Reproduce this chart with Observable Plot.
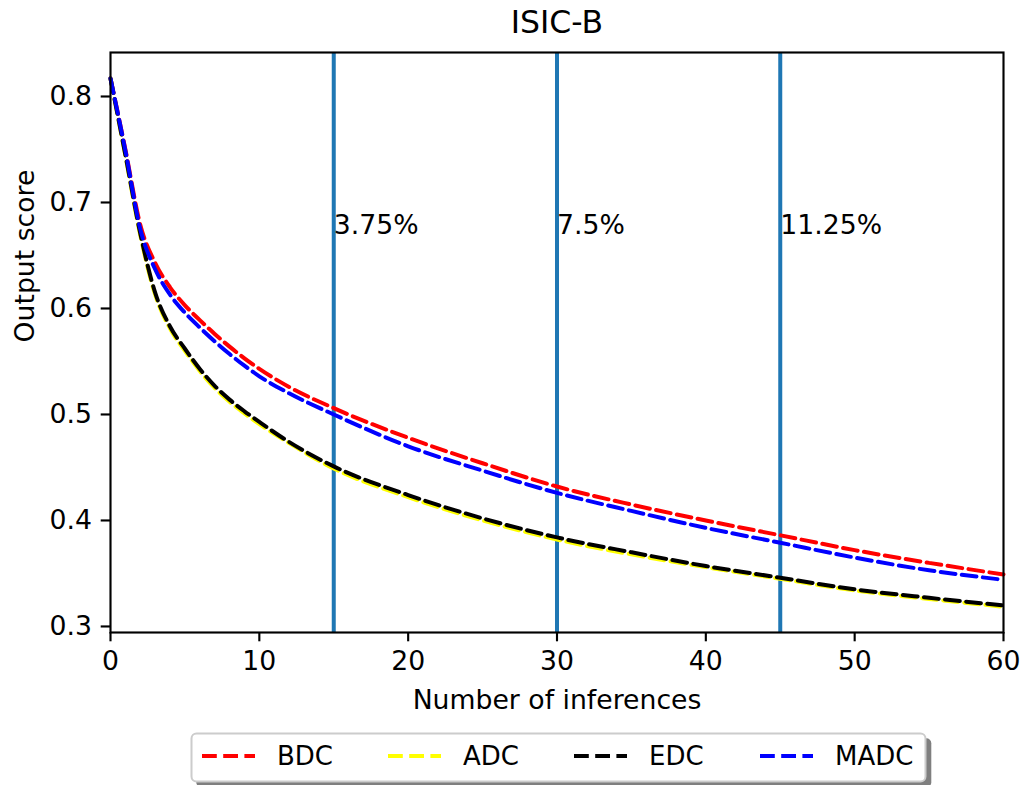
<!DOCTYPE html>
<html>
<head>
<meta charset="utf-8">
<script src="https://cdn.jsdelivr.net/npm/d3@7"></script>
<script src="https://cdn.jsdelivr.net/npm/@observablehq/plot@0.6"></script>
<style>
  html, body { margin: 0; padding: 0; background: #fff; }
  #wrap { position: relative; width: 1023px; height: 785px; font-family: "DejaVu Sans", sans-serif; }
  #legend { position: absolute; left: 191px; top: 733px; }
</style>
</head>
<body>
<div id="wrap"><div id="chart"></div><div id="legend"></div></div>
<script>
// ---- data ----
const inferences = [0, 1, 2, 3, 4, 5, 6, 7, 8, 9, 10, 12, 15, 20, 25, 30, 35, 40, 45, 50, 55, 60];
const bdc  = [0.817, 0.750, 0.679, 0.643, 0.620, 0.603, 0.589, 0.576, 0.564, 0.553, 0.543, 0.526, 0.506, 0.478, 0.454, 0.432, 0.415, 0.400, 0.386, 0.372, 0.360, 0.349];
const adc  = [0.817, 0.744, 0.669, 0.613, 0.581, 0.560, 0.541, 0.525, 0.512, 0.501, 0.491, 0.473, 0.449, 0.422, 0.400, 0.382, 0.368, 0.356, 0.345, 0.334, 0.326, 0.3186];
const edc  = [0.817, 0.745, 0.671, 0.615, 0.583, 0.562, 0.543, 0.527, 0.514, 0.503, 0.493, 0.474, 0.451, 0.424, 0.402, 0.384, 0.370, 0.357, 0.346, 0.335, 0.327, 0.3198];
const madc = [0.817, 0.749, 0.675, 0.637, 0.613, 0.596, 0.582, 0.569, 0.557, 0.546, 0.536, 0.520, 0.500, 0.470, 0.447, 0.426, 0.409, 0.393, 0.379, 0.365, 0.353, 0.344];
const seriesNames = ["BDC", "ADC", "EDC", "MADC"];
const seriesColors = ["#ff0000", "#ffff00", "#000000", "#0000ff"];
const seriesValues = [bdc, adc, edc, madc];
const markerX = [15, 30, 45];
const markerLabels = ["3.75%", "7.5%", "11.25%"];
const markerLabelY = 0.67;
const xTicks = [0, 10, 20, 30, 40, 50, 60];
const yTicks = [0.3, 0.4, 0.5, 0.6, 0.7, 0.8];
const titleText = "ISIC-B";
const xLabel = "Number of inferences";
const yLabel = "Output score";

// ---- build ----
const FS = 26.7;
const tables = seriesValues.map((vals, i) => inferences.map((x, j) => ({x, y: vals[j], name: seriesNames[i]})));
const markers = markerX.map((x, i) => ({x, label: markerLabels[i]}));

const lineMarks = tables.map((t, i) => Plot.line(t, {
  x: "x", y: "y", stroke: seriesColors[i], strokeWidth: 4,
  strokeDasharray: "14.8,6.4", curve: "monotone-x"
}));

const chart = Plot.plot({
  width: 1023,
  height: 725,
  marginTop: 52,
  marginLeft: 110,
  marginRight: 20,
  marginBottom: 93,
  style: {fontFamily: "DejaVu Sans", background: "#fff", color: "#000", overflow: "visible"},
  x: {domain: [0, 60]},
  y: {domain: [0.2943, 0.8415]},
  marks: [
    Plot.ruleX(markers, {x: "x", stroke: "#1f77b4", strokeWidth: 4}),
    ...lineMarks,
    Plot.text(markers, {x: "x", y: () => markerLabelY, text: "label", textAnchor: "start", lineAnchor: "bottom", fontSize: FS, fill: "#000"}),
    Plot.axisX({ticks: xTicks, tickSize: 9.3, tickPadding: 9.3, fontSize: FS, strokeWidth: 2.13, label: null, tickFormat: d => String(d)}),
    Plot.axisY({ticks: yTicks, tickSize: 9.3, tickPadding: 9.3, fontSize: FS, strokeWidth: 2.13, label: null, tickFormat: d => d.toFixed(1)}),
    Plot.frame({stroke: "#000", strokeWidth: 2.13}),
    Plot.text([titleText], {frameAnchor: "top", dy: -30, lineAnchor: "middle", fontSize: 31.5, fill: "#000"}),
    Plot.text([xLabel], {frameAnchor: "bottom", dy: 68, lineAnchor: "middle", fontSize: FS, fill: "#000"}),
    Plot.text([yLabel], {frameAnchor: "left", dx: -85, rotate: -90, fontSize: FS, fill: "#000"})
  ]
});
document.getElementById("chart").appendChild(chart);

// ---- legend ----
const LW = 735, LH = 49, slot = 186;
const leg = d3.select("#legend").append("svg")
  .attr("width", LW + 8).attr("height", LH + 8)
  .style("overflow", "visible");
leg.append("rect").attr("x", 5.3).attr("y", 5.3).attr("width", LW).attr("height", LH)
  .attr("rx", 5).attr("fill", "#000").attr("fill-opacity", 0.5);
leg.append("rect").attr("x", 0.5).attr("y", 0.5).attr("width", LW - 1).attr("height", LH - 1)
  .attr("rx", 5).attr("fill", "#fff").attr("stroke", "#cccccc").attr("stroke-width", 2);
seriesNames.forEach((name, i) => {
  const x0 = 11 + i * slot;
  leg.append("line").attr("x1", x0).attr("x2", x0 + 53).attr("y1", 23).attr("y2", 23)
    .attr("stroke", seriesColors[i]).attr("stroke-width", 4).attr("stroke-dasharray", "14.8,6.4");
  leg.append("text").attr("x", x0 + 75).attr("y", 23).attr("dy", "0.35em")
    .attr("font-family", "DejaVu Sans").attr("font-size", 26).attr("fill", "#000").text(name);
});
</script>
</body>
</html>
